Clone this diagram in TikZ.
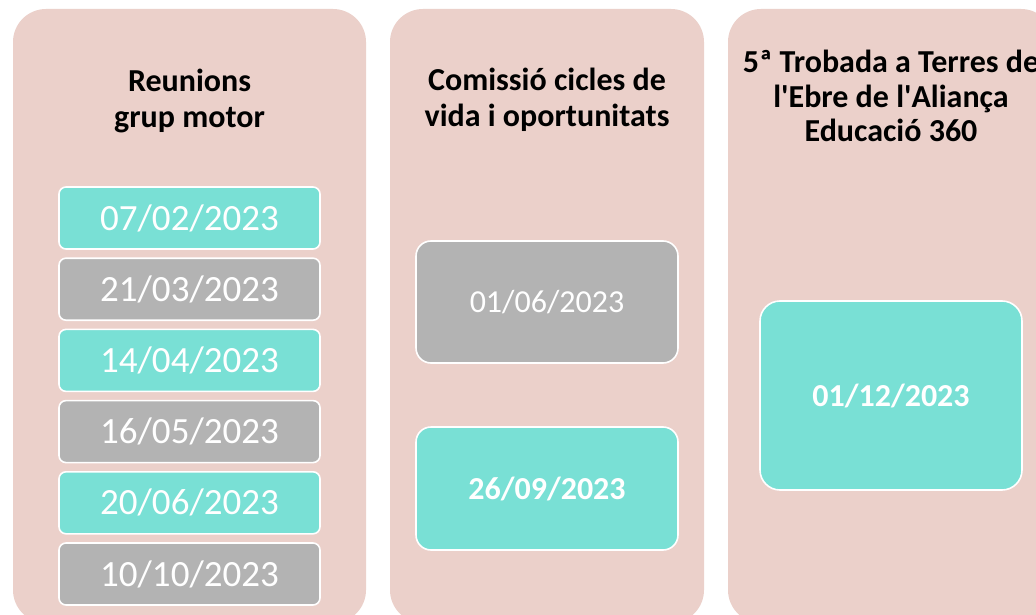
\documentclass[tikz,border=0pt]{standalone}
\usepackage{fontspec}
\setmainfont{Carlito}
\definecolor{panelpink}{HTML}{EBD0CA}
\definecolor{teal}{HTML}{79E0D5}
\definecolor{greybox}{HTML}{B3B3B3}
\tikzset{
  panel/.style={fill=panelpink, draw=none, rounded corners=33pt},
  title/.style={align=center, text=black, font=\fontsize{32}{36}\selectfont\bfseries, inner sep=0pt},
  smallbox/.style={draw=white, line width=1.6pt, rounded corners=7pt, minimum width=261pt, minimum height=62pt, inner sep=0pt, text=white, font=\fontsize{37}{44}\selectfont},
  bigbox/.style={draw=white, line width=1.6pt, rounded corners=15pt, minimum width=262pt, inner sep=0pt, text=white, font=\fontsize{32}{38}\selectfont},
  tealfill/.style={fill=teal},
  greyfill/.style={fill=greybox}
}
\begin{document}
\begin{tikzpicture}[x=1pt,y=-1pt]
\clip (0,0) rectangle (1036,615);
\fill[white] (0,0) rectangle (1036,615);
% panels
\path[panel] (13,9) rectangle (366,623);
\path[panel] (390,9) rectangle (704,623);
\path[panel] (728,9) rectangle (1054,623);
% titles
\node[title, anchor=base] (t1) at (189.5,128) {Reunions\\grup motor};
\node[title, anchor=base] (t2) at (547,127) {Comissió cicles de\\vida i oportunitats};
\node[title, anchor=base, font=\fontsize{32}{34.5}\selectfont\bfseries] (t3) at (891,142) {5ª Trobada a Terres de\\l\textquotesingle Ebre de l\textquotesingle Aliança\\Educació 360};
% panel 1 dates
\node[smallbox, tealfill] (d1) at (189.5,218) {07/02/2023};
\node[smallbox, greyfill] (d2) at (189.5,289.2) {21/03/2023};
\node[smallbox, tealfill] (d3) at (189.5,360.4) {14/04/2023};
\node[smallbox, greyfill] (d4) at (189.5,431.6) {16/05/2023};
\node[smallbox, tealfill] (d5) at (189.5,502.8) {20/06/2023};
\node[smallbox, greyfill] (d6) at (189.5,574) {10/10/2023};
% panel 2 dates
\node[bigbox, greyfill, minimum height=122pt] (e1) at (547,302) {01/06/2023};
\node[bigbox, tealfill, minimum height=123pt, font=\fontsize{32}{38}\selectfont\bfseries] (e2) at (547,488.5) {26/09/2023};
% panel 3 date
\node[bigbox, tealfill, minimum height=189pt, rounded corners=20pt, font=\fontsize{32}{38}\selectfont\bfseries] (f1) at (891,395.5) {01/12/2023};
\end{tikzpicture}
\end{document}
